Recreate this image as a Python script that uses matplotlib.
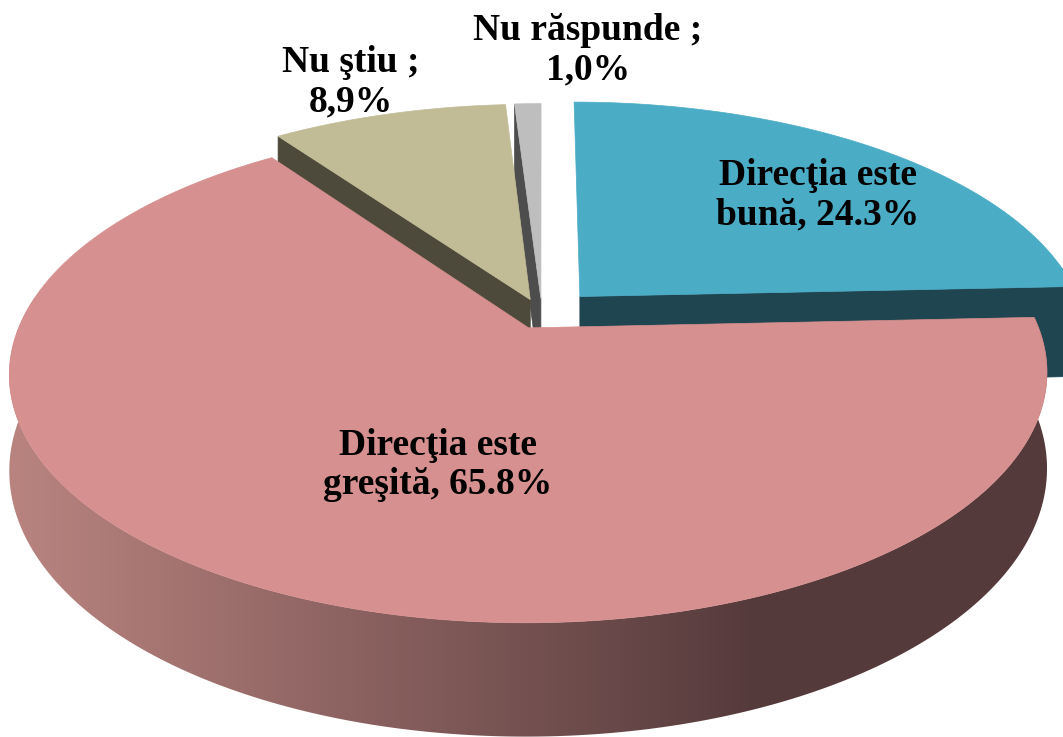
import numpy as np
import matplotlib.pyplot as plt
from matplotlib.patches import Polygon
import matplotlib.colors as mcolors

# data
labels = ['Direcţia este\nbună, 24.3%', 'Direcţia este\ngreşită, 65.8%',
          'Nu ştiu ;\n8,9%', 'Nu răspunde ;\n1,0%']
values = [24.3, 65.8, 8.9, 1.0]
top_colors = ['#4BACC6', '#D6908F', '#C2BC96', '#BEBEBE']
side_colors = ['#1F4550', '#8A6361', '#4E4A3B', '#4D4D4D']
explode = [0.11, 0.06, 0.07, 0.07]
label_xy = [(818, 195), (438, 465), (351, 82), (588, 50)]

# projection of the 3d pie (pixel space, y going down)
cx, cy = 542, 315
a, b = 505, 236
H = 92
p = 0.182


def proj(x, z, h):
    s = 1.0 / (1.0 - p * z)
    return cx + a * x * s, cy + (b * z + H * h) * s


def pt(theta, r, off, h):
    t = np.radians(theta)
    x = r * np.cos(t) + off[0]
    z = -r * np.sin(t) + off[1]
    return proj(x, z, h)


fig = plt.figure(figsize=(10.63, 7.37), dpi=100)
ax = fig.add_axes([0, 0, 1, 1])
ax.set_xlim(0, 1063)
ax.set_ylim(737, 0)
ax.axis('off')

total = sum(values)
cum = np.concatenate([[0], np.cumsum(values)]) / total
slices = []
for i, v in enumerate(values):
    t_hi = 90 - 360 * cum[i]
    t_lo = 90 - 360 * cum[i + 1]
    mid = np.radians((t_hi + t_lo) / 2)
    off = (explode[i] * np.cos(mid), -explode[i] * np.sin(mid))
    slices.append((i, t_lo, t_hi, off, off[1] - np.sin(mid)))

# back to front
slices.sort(key=lambda s: s[4])

# gradient for the big front side
ramp_x = np.linspace(0, 1063, 400)
c_left = np.array(mcolors.to_rgb('#B8837F'))
c_right = np.array(mcolors.to_rgb('#553A3B'))
f = np.clip((ramp_x - 20) / 740, 0, 1)[:, None]
ramp = (c_left * (1 - f) + c_right * f)[None, :, :]

for i, t_lo, t_hi, off, _ in slices:
    # radial faces
    faces = []
    if np.cos(np.radians(t_lo)) > 1e-3:
        faces.append(t_lo)
    if -np.cos(np.radians(t_hi)) > 1e-3:
        faces.append(t_hi)
    for t in faces:
        quad = [pt(t, 0, off, 0), pt(t, 1, off, 0), pt(t, 1, off, 1), pt(t, 0, off, 1)]
        ax.add_patch(Polygon(quad, closed=True, fc=side_colors[i], ec=side_colors[i], lw=0.5))

    # outer side (front part)
    th = np.linspace(t_lo, t_hi, 400)
    vis = th[-np.sin(np.radians(th)) > -0.14]
    if len(vis) > 1:
        upper = [pt(t, 1, off, 0) for t in vis]
        lower = [pt(t, 1, off, 1) for t in vis[::-1]]
        side = Polygon(upper + lower, closed=True, fc=side_colors[i], ec='none')
        ax.add_patch(side)
        if i == 1:
            side.set_facecolor('none')
            im = ax.imshow(ramp, extent=[0, 1063, 737, 0], aspect='auto', zorder=side.get_zorder())
            im.set_clip_path(side)

    # top face
    th = np.linspace(t_lo, t_hi, 300)
    top = [pt(0, 0, off, 0)] + [pt(t, 1, off, 0) for t in th]
    ax.add_patch(Polygon(top, closed=True, fc=top_colors[i], ec=top_colors[i], lw=0.5))

for lab, (x, y) in zip(labels, label_xy):
    ax.text(x, y, lab, ha='center', va='center', fontsize=27, fontweight='bold',
            family='Liberation Serif', linespacing=1.15, color='black')

ax.set_xlim(0, 1063)
ax.set_ylim(737, 0)
fig.savefig('out.png', dpi=100)
